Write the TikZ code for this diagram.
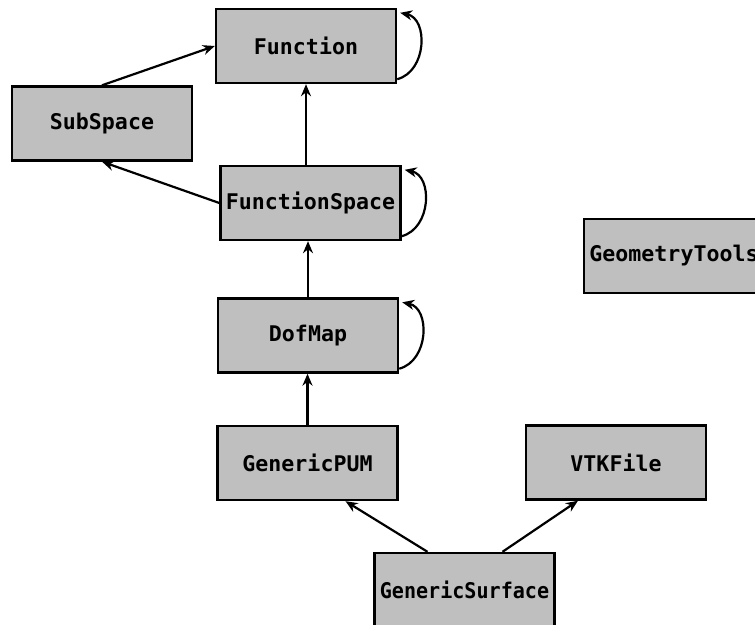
\documentclass[tikz,border=0pt]{standalone}
\usepackage{fontspec}
\setmonofont{DejaVu Sans Mono}
\usetikzlibrary{arrows.meta,calc}
\definecolor{boxgray}{RGB}{191,191,191}
\begin{document}
\begin{tikzpicture}[x=0.5pt,y=-0.5pt,
    cls/.style={draw,line width=1.2pt,fill=boxgray,inner sep=0pt,
        minimum width=90pt,minimum height=37pt,
        font=\fontsize{10.8}{13}\selectfont\ttfamily\bfseries},
    arr/.style={-{Stealth[length=6pt,width=5pt]},line width=1.1pt}]
        \useasboundingbox (0,0) rectangle (755,625);
        \clip (0,0) rectangle (755,625);
        \node [cls] (fn) at (306,46) {Function};
        \node [cls] (sub) at (102,123.5) {SubSpace};
        \node [cls] (fs) at (310.5,203) {FunctionSpace};
        \node [cls] (dof) at (308,335.5) {DofMap};
        \node [cls] (pum) at (307.5,463) {GenericPUM};
        \node [cls] (vtk) at (616,462.5) {VTKFile};
        \node [cls] (surf) at (464.5,590) {\scalebox{0.93}[1]{GenericSurface}};
        \node [cls] (geo) at (674,256) {GeometryTools};
        \draw [arr] (sub.north) -- (fn.west);
        \draw [arr] (fn.south |- fs.north) -- (fn.south);
        \draw [arr] (fs.west) -- (sub.south);
        \draw [arr] (dof.north) -- (dof.north |- fs.south);
        \draw [arr] (pum.north) -- (pum.north |- dof.south);
        \draw [arr] ($(surf.north)+(-37,0)$) -- ($(pum.south)+(38,0)$);
        \draw [arr] ($(surf.north)+(38,0)$) -- ($(vtk.south)+(-38,0)$);
        % self loops on the right side
        \foreach \n in {fn,fs,dof}
            \draw [arr] ($(\n.south east)+(0,-5)$) .. controls +(30,-8) and +(28,6) .. ($(\n.north east)+(3,5)$);
    \end{tikzpicture}
\end{document}
